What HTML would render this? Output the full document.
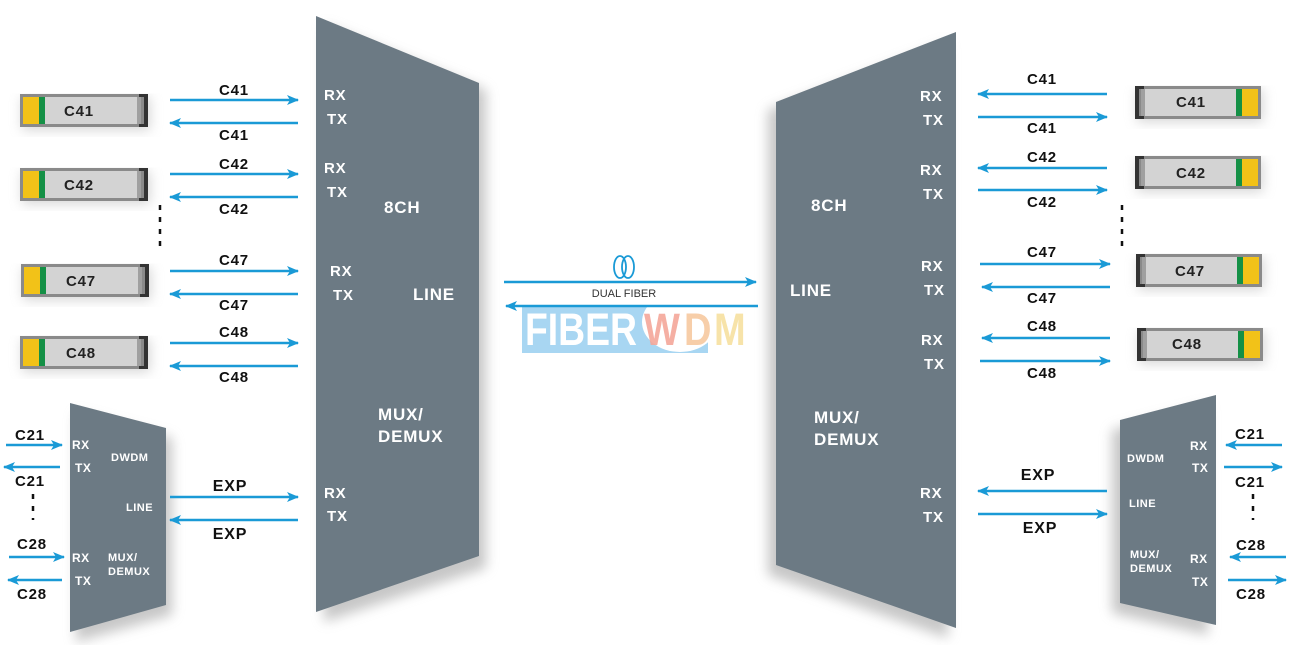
<!DOCTYPE html>
<html><head><meta charset="utf-8"><style>
html,body{margin:0;padding:0;background:#fff;width:1305px;height:645px;overflow:hidden}
svg text{font-family:"Liberation Sans",Arial,sans-serif;font-weight:bold}
</style></head><body>
<svg width="1305" height="645" viewBox="0 0 1305 645" xmlns="http://www.w3.org/2000/svg">
<defs>
<marker id="a" markerUnits="userSpaceOnUse" markerWidth="12" markerHeight="10" refX="11" refY="5" orient="auto"><path d="M0,0 L12,5 L0,10 L3,5 Z" fill="#1a9ad6"/></marker>
<filter id="sh" x="-20%" y="-10%" width="150%" height="130%"><feGaussianBlur stdDeviation="6"/></filter>
<g id="modL">
<rect x="2" y="3" width="128" height="33" fill="#bbb" filter="url(#sh)" opacity="0.6"/>
<rect x="0" y="0" width="128" height="33" fill="#8a8a8a"/>
<rect x="3" y="3" width="114" height="27" fill="#d3d3d3"/>
<rect x="3" y="3" width="16" height="27" fill="#f2c218"/>
<rect x="19" y="3" width="6" height="27" fill="#149046"/>
<rect x="117" y="3" width="4" height="27" fill="#a0a0a0"/>
<path d="M119,0 H128 V33 H119 V30 H124 V3 H119 Z" fill="#333"/>
</g>
<g id="modR">
<rect x="2" y="3" width="126" height="33" fill="#bbb" filter="url(#sh)" opacity="0.6"/>
<rect x="0" y="0" width="126" height="33" fill="#8a8a8a"/>
<rect x="9" y="3" width="114" height="27" fill="#d3d3d3"/>
<rect x="107" y="3" width="16" height="27" fill="#f2c218"/>
<rect x="101" y="3" width="6" height="27" fill="#149046"/>
<rect x="6" y="3" width="4" height="27" fill="#a0a0a0"/>
<path d="M0,0 H9 V3 H4 V30 H9 V33 H0 Z" fill="#333"/>
</g>
</defs>

<g fill="#999" opacity="0.55" filter="url(#sh)">
<polygon points="324,25 486,90 486,568 324,622"/>
<polygon points="768,110 948,43 948,638 768,575"/>
<polygon points="76,413 172,438 172,615 76,642"/>
<polygon points="1112,430 1208,405 1208,635 1112,613"/>
</g>
<g fill="#6c7a84">
<polygon points="316,16 479,83 479,556 316,612"/>
<polygon points="776,102 956,32 956,628 776,565"/>
<polygon points="70,403 166,428 166,605 70,632"/>
<polygon points="1120,420 1216,395 1216,625 1120,603"/>
</g>

<rect x="522" y="307" width="186" height="46" fill="#a8d6f2"/>
<ellipse cx="680" cy="322" rx="38" ry="30" fill="#fff"/>
<g transform="translate(0,345) scale(1,1.2) translate(0,-345)">
<text x="525" y="345" font-size="38" fill="#fff" textLength="112" lengthAdjust="spacingAndGlyphs">FIBER</text>
<text x="644" y="345" font-size="38" fill="#f4a79a" opacity="0.9">W</text>
<text x="684" y="345" font-size="38" fill="#f7c9a0" opacity="0.9">D</text>
<text x="714" y="345" font-size="38" fill="#f7e0a0" opacity="0.9">M</text>
</g>

<g fill="#fff" font-size="15" letter-spacing="0.8">
<text x="324" y="100">RX</text><text x="327" y="124">TX</text>
<text x="324" y="173">RX</text><text x="327" y="197">TX</text>
<text x="330" y="276">RX</text><text x="333" y="300">TX</text>
<text x="324" y="498">RX</text><text x="327" y="521">TX</text>
<text x="384" y="213" font-size="17">8CH</text>
<text x="413" y="300" font-size="17">LINE</text>
<text x="378" y="420" font-size="17">MUX/</text>
<text x="378" y="442" font-size="17">DEMUX</text>

<text x="920" y="101">RX</text><text x="923" y="125">TX</text>
<text x="920" y="175">RX</text><text x="923" y="199">TX</text>
<text x="921" y="271">RX</text><text x="924" y="295">TX</text>
<text x="921" y="345">RX</text><text x="924" y="369">TX</text>
<text x="920" y="498">RX</text><text x="923" y="522">TX</text>
<text x="811" y="211" font-size="17">8CH</text>
<text x="790" y="296" font-size="17">LINE</text>
<text x="814" y="423" font-size="17">MUX/</text>
<text x="814" y="445" font-size="17">DEMUX</text>
</g>
<g fill="#fff" font-size="12" letter-spacing="0.5">
<text x="72" y="449">RX</text><text x="75" y="472">TX</text>
<text x="111" y="461" font-size="11">DWDM</text>
<text x="126" y="511" font-size="11">LINE</text>
<text x="72" y="562">RX</text><text x="75" y="585">TX</text>
<text x="108" y="561" font-size="11">MUX/</text>
<text x="108" y="575" font-size="11">DEMUX</text>

<text x="1190" y="450">RX</text><text x="1192" y="472">TX</text>
<text x="1127" y="462" font-size="11">DWDM</text>
<text x="1129" y="507" font-size="11">LINE</text>
<text x="1190" y="563">RX</text><text x="1192" y="586">TX</text>
<text x="1130" y="558" font-size="11">MUX/</text>
<text x="1130" y="572" font-size="11">DEMUX</text>
</g>

<use href="#modL" x="20" y="94"/>
<use href="#modL" x="20" y="168"/>
<use href="#modL" x="21" y="264"/>
<use href="#modL" x="20" y="336"/>
<use href="#modR" x="1135" y="86"/>
<use href="#modR" x="1135" y="156"/>
<use href="#modR" x="1136" y="254"/>
<use href="#modR" x="1137" y="328"/>
<g font-size="15" fill="#222" letter-spacing="0.8">
<text x="64" y="116">C41</text><text x="64" y="190">C42</text><text x="66" y="286">C47</text><text x="66" y="358">C48</text>
<text x="1176" y="107">C41</text><text x="1176" y="178">C42</text><text x="1175" y="276">C47</text><text x="1172" y="349">C48</text>
</g>

<g stroke="#1a9ad6" stroke-width="2.5" marker-end="url(#a)" fill="none">
<line x1="170" y1="100" x2="298" y2="100"/><line x1="298" y1="123" x2="170" y2="123"/>
<line x1="170" y1="174" x2="298" y2="174"/><line x1="298" y1="197" x2="170" y2="197"/>
<line x1="170" y1="271" x2="298" y2="271"/><line x1="298" y1="294" x2="170" y2="294"/>
<line x1="170" y1="343" x2="298" y2="343"/><line x1="298" y1="366" x2="170" y2="366"/>
<line x1="170" y1="497" x2="298" y2="497"/><line x1="298" y1="520" x2="170" y2="520"/>
<line x1="6" y1="445" x2="62" y2="445"/><line x1="60" y1="467" x2="4" y2="467"/>
<line x1="9" y1="557" x2="64" y2="557"/><line x1="62" y1="580" x2="8" y2="580"/>
<line x1="504" y1="282" x2="756" y2="282"/><line x1="758" y1="306" x2="506" y2="306"/>
<line x1="1107" y1="94" x2="978" y2="94"/><line x1="978" y1="117" x2="1107" y2="117"/>
<line x1="1107" y1="168" x2="978" y2="168"/><line x1="978" y1="190" x2="1107" y2="190"/>
<line x1="980" y1="264" x2="1110" y2="264"/><line x1="1110" y1="287" x2="982" y2="287"/>
<line x1="1110" y1="338" x2="982" y2="338"/><line x1="980" y1="361" x2="1110" y2="361"/>
<line x1="1107" y1="491" x2="978" y2="491"/><line x1="978" y1="514" x2="1107" y2="514"/>
<line x1="1282" y1="445" x2="1226" y2="445"/><line x1="1224" y1="467" x2="1282" y2="467"/>
<line x1="1286" y1="557" x2="1230" y2="557"/><line x1="1228" y1="580" x2="1286" y2="580"/>
</g>
<g fill="#111" font-size="15" text-anchor="middle" letter-spacing="0.8">
<text x="234" y="95">C41</text><text x="234" y="140">C41</text>
<text x="234" y="169">C42</text><text x="234" y="214">C42</text>
<text x="234" y="265">C47</text><text x="234" y="310">C47</text>
<text x="234" y="337">C48</text><text x="234" y="382">C48</text>
<text x="230" y="491" font-size="16">EXP</text><text x="230" y="539" font-size="16">EXP</text>
<text x="30" y="440">C21</text><text x="30" y="486">C21</text>
<text x="32" y="549">C28</text><text x="32" y="599">C28</text>
<text x="1042" y="84">C41</text><text x="1042" y="133">C41</text>
<text x="1042" y="162">C42</text><text x="1042" y="207">C42</text>
<text x="1042" y="257">C47</text><text x="1042" y="303">C47</text>
<text x="1042" y="331">C48</text><text x="1042" y="378">C48</text>
<text x="1038" y="480" font-size="16">EXP</text><text x="1040" y="533" font-size="16">EXP</text>
<text x="1250" y="439">C21</text><text x="1250" y="487">C21</text>
<text x="1251" y="550">C28</text><text x="1251" y="599">C28</text>
</g>
<text x="624" y="297" font-size="11" fill="#333" style="font-weight:normal" text-anchor="middle">DUAL FIBER</text>
<g fill="none" stroke="#1a9ad6" stroke-width="1.8">
<ellipse cx="620" cy="267" rx="6" ry="11"/><ellipse cx="628" cy="267" rx="6" ry="11"/>
</g>

<g stroke="#111" stroke-width="2.5" stroke-dasharray="5,7">
<line x1="160" y1="205" x2="160" y2="250"/>
<line x1="1122" y1="205" x2="1122" y2="252"/>
<line x1="33" y1="494" x2="33" y2="520"/>
<line x1="1253" y1="494" x2="1253" y2="520"/>
</g>
</svg>
</body></html>
